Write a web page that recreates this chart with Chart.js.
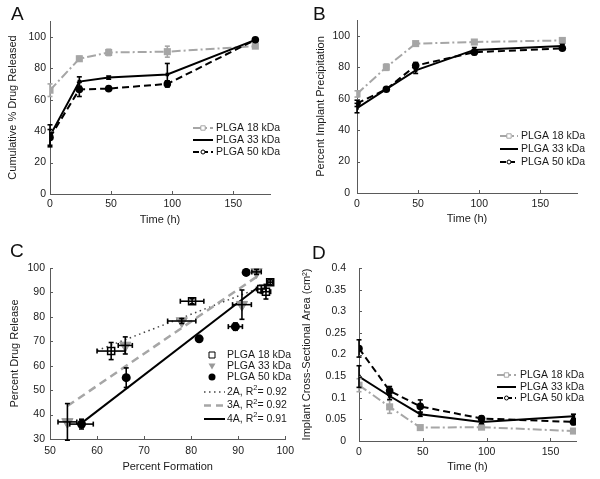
<!DOCTYPE html>
<html><head><meta charset="utf-8">
<script src="https://cdn.jsdelivr.net/npm/chart.js@4/dist/chart.umd.min.js"></script>
<style>
html,body{margin:0;padding:0;background:#fff;}
#wrap{position:relative;width:600px;height:479px;overflow:hidden;font-family:"Liberation Sans",Arial,sans-serif;}
canvas{position:absolute;}
.lbl{position:absolute;font-size:19px;color:#111;line-height:1;font-family:"Liberation Sans",Arial,sans-serif;}
</style></head><body>
<div id="wrap">
<canvas id="cA" width="300" height="240" style="left:0;top:0;width:300px;height:240px"></canvas>
<canvas id="cB" width="300" height="240" style="left:300px;top:0;width:300px;height:240px"></canvas>
<canvas id="cC" width="300" height="239" style="left:0;top:240px;width:300px;height:239px"></canvas>
<canvas id="cD" width="300" height="239" style="left:300px;top:240px;width:300px;height:239px"></canvas>
<div class="lbl" style="left:11px;top:4px">A</div>
<div class="lbl" style="left:313px;top:4px">B</div>
<div class="lbl" style="left:10px;top:241px">C</div>
<div class="lbl" style="left:312px;top:243px">D</div>
</div>
<script>
// ---------- data ----------
const timeH = [0, 24, 48, 96, 168];
const seriesNames = ['PLGA 18 kDa', 'PLGA 33 kDa', 'PLGA 50 kDa'];

// A: cumulative % drug released
const relA18 = [66, 86, 90, 90.5, 94];
const relA33 = [37, 71.5, 74, 76, 98];
const relA50 = [36, 66.5, 67, 70, 98];
const errA18 = [4, 1.5, 2, 3.5, 1];
const errA33 = [7, 3, 1, 7, 1];
const errA50 = [5, 4.5, 1, 2, 1];

// B: percent implant precipitation
const preB18 = [63, 80, 95, 96, 97];
const preB33 = [54, 66, 78, 91, 93.5];
const preB50 = [57, 66, 81, 89.5, 92];
const errB18 = [2, 2, 1, 1, 1];
const errB33 = [3, 1, 2, 1.5, 1];
const errB50 = [2, 1, 2, 1.5, 1];

// C: percent drug release vs percent formation
const formC18 = [63, 80.2, 94.9, 95.9, 96.8];
const relC18  = [66, 86.4, 91.4, 90.3, 94.2];
const xerrC18 = [3, 2.5, 1, 1, 0.5];
const yerrC18 = [3.5, 1, 1.5, 3, 1];
const formC33 = [53.7, 66, 78, 90.8, 93.9];
const relC33  = [37, 68.3, 78.3, 85, 98.4];
const xerrC33 = [2, 1.5, 3, 2, 1];
const yerrC33 = [7.5, 3.5, 1, 6, 1];
const formC50 = [56.7, 66.2, 81.7, 89.4, 91.7];
const relC50  = [36.1, 55.1, 71, 76, 98.2];
const xerrC50 = [2.5, 0.5, 0.5, 1.5, 0.5];
const yerrC50 = [2, 4, 1, 1.5, 0.5];
const fitNames = ['2A', '3A', '4A'];
const fitR2 = ['0.92', '0.92', '0.91'];
const fit2A = [[60, 66.2], [97, 93.7]];
const fit3A = [[53.7, 43.5], [94, 96.5]];
const fit4A = [[56.7, 36.5], [94.5, 92.5]];

// D: implant cross-sectional area
const areaD18 = [0.129, 0.079, 0.031, 0.032, 0.023];
const areaD33 = [0.149, 0.104, 0.062, 0.044, 0.057];
const areaD50 = [0.214, 0.116, 0.080, 0.052, 0.044];
const errD18 = [0.015, 0.015, 0.005, 0.004, 0.003];
const errD33 = [0.025, 0.008, 0.005, 0.004, 0.005];
const errD50 = [0.02, 0.01, 0.015, 0.005, 0.006];

// tick labels
const xTicksTime = [0, 50, 100, 150];
const yTicksPct = [0, 20, 40, 60, 80, 100];
const xTicksC = [50, 60, 70, 80, 90, 100];
const yTicksC = [30, 40, 50, 60, 70, 80, 90, 100];
const yTicksD = [0, 0.05, 0.1, 0.15, 0.2, 0.25, 0.3, 0.35, 0.4];
const yLabelsD = ['0', '0.05', '0.1', '0.15', '0.2', '0.25', '0.3', '0.35', '0.4'];

// ---------- styles ----------
const FONT = '"Liberation Sans", Arial, sans-serif';
const INK = '#1a1a1a';
const AXIS = '#5a5a5a';
const GRAY = '#a6a6a6';
const TRI = '#999999';
const DASH18 = [9, 3, 2, 3];
const DASH50 = [7, 4];

const pts = (xs, ys) => xs.map((x, i) => ({x, y: ys[i]}));
const seg = a => a.map(p => ({x: p[0], y: p[1]}));

// ---------- plugins ----------
const errPlugin = {
  id: 'errbars',
  afterDatasetsDraw(chart, args, opts) {
    const ctx = chart.ctx, xs = chart.scales.x, ys = chart.scales.y;
    (opts.sets || []).forEach(s => {
      ctx.save();
      ctx.strokeStyle = s.color; ctx.lineWidth = s.width || 1.6; ctx.setLineDash([]);
      const cap = s.cap || 2.5;
      const L = (a, b, c, d) => { ctx.beginPath(); ctx.moveTo(a, b); ctx.lineTo(c, d); ctx.stroke(); };
      s.x.forEach((xv, i) => {
        const yv = s.y[i];
        const px = xs.getPixelForValue(xv), py = ys.getPixelForValue(yv);
        if (s.ey && s.ey[i]) {
          const t = ys.getPixelForValue(yv + s.ey[i]), b = ys.getPixelForValue(yv - s.ey[i]);
          L(px, t, px, b); L(px - cap, t, px + cap, t); L(px - cap, b, px + cap, b);
        }
        if (s.ex && s.ex[i]) {
          const l = xs.getPixelForValue(xv - s.ex[i]), r = xs.getPixelForValue(xv + s.ex[i]);
          L(l, py, r, py); L(l, py - cap, l, py + cap); L(r, py - cap, r, py + cap);
        }
      });
      ctx.restore();
    });
  }
};

const tickPlugin = {
  id: 'inticks',
  afterDraw(chart) {
    const ctx = chart.ctx, a = chart.chartArea;
    ctx.save(); ctx.strokeStyle = AXIS; ctx.lineWidth = 1; ctx.setLineDash([]);
    chart.scales.x.ticks.forEach(t => {
      const p = Math.round(chart.scales.x.getPixelForValue(t.value)) + 0.5;
      ctx.beginPath(); ctx.moveTo(p, a.bottom); ctx.lineTo(p, a.bottom - 3); ctx.stroke();
    });
    chart.scales.y.ticks.forEach(t => {
      const p = Math.round(chart.scales.y.getPixelForValue(t.value)) + 0.5;
      ctx.beginPath(); ctx.moveTo(a.left, p); ctx.lineTo(a.left + 3, p); ctx.stroke();
    });
    ctx.restore();
  }
};

function drawMarker(ctx, m, x, y) {
  ctx.save(); ctx.setLineDash([]);
  ctx.fillStyle = m.fill; ctx.strokeStyle = m.stroke; ctx.lineWidth = m.lw || 1;
  ctx.beginPath();
  if (m.style === 'rect') ctx.rect(x - m.r, y - m.r, 2 * m.r, 2 * m.r);
  else if (m.style === 'circle') ctx.arc(x, y, m.r, 0, Math.PI * 2);
  else if (m.style === 'tridown') { ctx.moveTo(x - m.r, y - m.r * 0.7); ctx.lineTo(x + m.r, y - m.r * 0.7); ctx.lineTo(x, y + m.r); ctx.closePath(); }
  if (m.fill !== 'none') ctx.fill();
  if (m.stroke !== 'none') ctx.stroke();
  ctx.restore();
}

const legendPlugin = {
  id: 'plegend',
  afterDraw(chart, args, o) {
    if (!o || !o.items) return;
    const ctx = chart.ctx;
    ctx.save();
    o.items.forEach((it, i) => {
      const y = o.rows[i];
      const x1 = o.x1, x2 = o.x2;
      if (it.line) {
        ctx.strokeStyle = it.line.color; ctx.lineWidth = it.line.width; ctx.setLineDash(it.line.dash || []);
        ctx.beginPath(); ctx.moveTo(x1, y); ctx.lineTo(x2, y); ctx.stroke();
      }
      if (it.marker) drawMarker(ctx, it.marker, it.mx !== undefined ? it.mx : (x1 + x2) / 2, y);
      ctx.setLineDash([]);
      ctx.fillStyle = INK; ctx.textBaseline = 'middle'; ctx.textAlign = 'left';
      let x = o.xt;
      it.text.forEach(part => {
        if (part.sup) {
          ctx.font = '7.5px ' + FONT; ctx.fillText(part.t, x, y - 4);
        } else {
          ctx.font = '10.5px ' + FONT; ctx.fillText(part.t, x, y);
        }
        x += ctx.measureText(part.t).width;
      });
    });
    ctx.restore();
  }
};

// ---------- builder ----------
function buildPanel(p) {
  const titleSize = 11;
  const lh = titleSize * 1.2;
  const scaleLeft = p.yTitleX - lh / 2;
  const padL = scaleLeft - p.ox;
  const YW = p.L - scaleLeft;
  const xBottom = p.xTitleY + lh / 2;
  const padB = p.oy + p.H - xBottom;
  const XH = xBottom - p.B;
  const tickFont = {family: FONT, size: 10.5};
  return new Chart(document.getElementById(p.id), {
    type: 'scatter',
    data: {datasets: p.datasets},
    options: {
      responsive: false, animation: false, devicePixelRatio: 1,
      layout: {padding: {left: padL, top: p.T - p.oy, right: p.ox + p.W - p.R, bottom: padB}},
      plugins: {legend: {display: false}, tooltip: {enabled: false}, errbars: {sets: p.err}, plegend: p.legend},
      scales: {
        x: {
          type: 'linear', min: p.xmin, max: p.xmax,
          afterFit(s) { s.height = XH; },
          afterBuildTicks(s) { s.ticks = p.xticks.map(v => ({value: v})); },
          grid: {display: false, drawTicks: false},
          border: {display: true, color: AXIS, width: 1},
          ticks: {padding: p.xTickPad, color: INK, font: tickFont, maxRotation: 0, autoSkip: false,
                  callback: (v, i) => String(p.xticks[i])},
          title: {display: true, text: p.xTitle, color: INK, font: {family: FONT, size: titleSize}, padding: 0}
        },
        y: {
          type: 'linear', min: p.ymin, max: p.ymax,
          afterFit(s) { s.width = YW; },
          afterBuildTicks(s) { s.ticks = p.yticks.map(v => ({value: v})); },
          grid: {display: false, drawTicks: false},
          border: {display: true, color: AXIS, width: 1},
          ticks: {padding: p.yTickPad, color: INK, font: tickFont, autoSkip: false,
                  callback: (v, i) => (p.ylabels ? p.ylabels[i] : String(p.yticks[i]))},
          title: {display: true, text: p.yTitle, color: INK, font: {family: FONT, size: titleSize}, padding: 0}
        }
      }
    },
    plugins: [errPlugin, tickPlugin, legendPlugin]
  });
}

function timeSets(d18, d33, d50) {
  return [
    {data: pts(timeH, d50), showLine: true, borderColor: '#000', borderWidth: 2, borderDash: DASH50,
     pointStyle: 'circle', pointRadius: 3.8, pointBackgroundColor: '#000', pointBorderColor: '#000', pointBorderWidth: 0, order: 1},
    {data: pts(timeH, d33), showLine: true, borderColor: '#000', borderWidth: 2,
     pointStyle: 'rect', pointRadius: 2.5, pointBackgroundColor: '#000', pointBorderColor: '#000', pointBorderWidth: 0, order: 2},
    {data: pts(timeH, d18), showLine: true, borderColor: GRAY, borderWidth: 2, borderDash: DASH18,
     pointStyle: 'rect', pointRadius: 5, pointBackgroundColor: GRAY, pointBorderColor: GRAY, pointBorderWidth: 0, order: 3}
  ];
}
function timeLegend(ox, oy, x1, x2, xt, rows) {
  return {
    x1: x1 - ox, x2: x2 - ox, xt: xt - ox, rows: rows.map(r => r - oy),
    items: [
      {line: {color: GRAY, width: 2, dash: DASH18}, marker: {style: 'rect', r: 2.2, fill: '#fff', stroke: GRAY, lw: 1}, text: [{t: seriesNames[0]}]},
      {line: {color: '#000', width: 2}, text: [{t: seriesNames[1]}]},
      {line: {color: '#000', width: 2, dash: [6, 3]}, marker: {style: 'circle', r: 2, fill: '#fff', stroke: '#000', lw: 1}, text: [{t: seriesNames[2]}]}
    ]
  };
}

// Panel A
buildPanel({
  id: 'cA', ox: 0, oy: 0, W: 300, H: 240, L: 50, T: 21, R: 270, B: 194,
  yTitleX: 13, xTitleY: 220, yTickPad: 4, xTickPad: 4,
  xmin: 0, xmax: 180, ymin: 0, ymax: 110, xticks: xTicksTime, yticks: yTicksPct,
  xTitle: 'Time (h)', yTitle: 'Cumulative % Drug Released',
  datasets: timeSets(relA18, relA33, relA50),
  err: [
    {x: timeH, y: relA18, ey: errA18, color: GRAY},
    {x: timeH, y: relA33, ey: errA33, color: '#000'},
    {x: timeH, y: relA50, ey: errA50, color: '#000'}
  ],
  legend: timeLegend(0, 0, 193, 213, 216, [128, 140, 152])
});

// Panel B
buildPanel({
  id: 'cB', ox: 300, oy: 0, W: 300, H: 240, L: 357, T: 20, R: 577, B: 193,
  yTitleX: 321, xTitleY: 219, yTickPad: 7, xTickPad: 5,
  xmin: 0, xmax: 180, ymin: 0, ymax: 110, xticks: xTicksTime, yticks: yTicksPct,
  xTitle: 'Time (h)', yTitle: 'Percent Implant Precipitation',
  datasets: timeSets(preB18, preB33, preB50),
  err: [
    {x: timeH, y: preB18, ey: errB18, color: GRAY},
    {x: timeH, y: preB33, ey: errB33, color: '#000'},
    {x: timeH, y: preB50, ey: errB50, color: '#000'}
  ],
  legend: timeLegend(300, 0, 500, 518, 521, [136, 149, 162])
});

// Panel C
buildPanel({
  id: 'cC', ox: 0, oy: 240, W: 300, H: 239, L: 50, T: 268, R: 286, B: 439,
  yTitleX: 15, xTitleY: 467, yTickPad: 5, xTickPad: 6,
  xmin: 50, xmax: 100, ymin: 30, ymax: 100, xticks: xTicksC, yticks: yTicksC,
  xTitle: 'Percent Formation', yTitle: 'Percent Drug Release',
  datasets: [
    {data: pts(formC18, relC18), pointStyle: 'rect', pointRadius: 5, pointBackgroundColor: '#fff', pointBorderColor: '#000', pointBorderWidth: 1.5, order: 1},
    {data: pts(formC33, relC33), pointStyle: 'triangle', pointRotation: 180, pointRadius: 6.5, pointBackgroundColor: TRI, pointBorderColor: TRI, pointBorderWidth: 1, order: 2},
    {data: pts(formC50, relC50), pointStyle: 'circle', pointRadius: 4.5, pointBackgroundColor: '#000', pointBorderColor: '#000', pointBorderWidth: 0, order: 3},
    {data: seg(fit2A), showLine: true, pointRadius: 0, borderColor: '#444', borderWidth: 1.5, borderDash: [1.5, 3.5], order: 6},
    {data: seg(fit3A), showLine: true, pointRadius: 0, borderColor: GRAY, borderWidth: 2.5, borderDash: [8, 5], order: 5},
    {data: seg(fit4A), showLine: true, pointRadius: 0, borderColor: '#000', borderWidth: 2, order: 4}
  ],
  err: [
    {x: formC18, y: relC18, ex: xerrC18, ey: yerrC18, color: '#000'},
    {x: formC33, y: relC33, ex: xerrC33, ey: yerrC33, color: '#000'},
    {x: formC50, y: relC50, ex: xerrC50, ey: yerrC50, color: '#000'}
  ],
  legend: {
    x1: 204, x2: 225, xt: 227, rows: [355, 366, 377, 392, 405.5, 419].map(r => r - 240),
    items: [
      {marker: {style: 'rect', r: 3, fill: '#fff', stroke: '#000', lw: 1}, mx: 212, text: [{t: seriesNames[0]}]},
      {marker: {style: 'tridown', r: 3.5, fill: TRI, stroke: 'none'}, mx: 212, text: [{t: seriesNames[1]}]},
      {marker: {style: 'circle', r: 3.5, fill: '#000', stroke: 'none'}, mx: 212, text: [{t: seriesNames[2]}]},
      {line: {color: '#444', width: 1.5, dash: [1.5, 3.5]}, text: [{t: fitNames[0] + ', R'}, {t: '2', sup: true}, {t: '= ' + fitR2[0]}]},
      {line: {color: GRAY, width: 2.5, dash: [7, 5]}, text: [{t: fitNames[1] + ', R'}, {t: '2', sup: true}, {t: '= ' + fitR2[1]}]},
      {line: {color: '#000', width: 2}, text: [{t: fitNames[2] + ', R'}, {t: '2', sup: true}, {t: '= ' + fitR2[2]}]}
    ]
  }
});

// Panel D
buildPanel({
  id: 'cD', ox: 300, oy: 240, W: 300, H: 239, L: 359, T: 268, R: 576, B: 441,
  yTitleX: 307, xTitleY: 467, yTickPad: 13, xTickPad: 5,
  xmin: 0, xmax: 170, ymin: 0, ymax: 0.4, xticks: xTicksTime, yticks: yTicksD, ylabels: yLabelsD,
  xTitle: 'Time (h)', yTitle: 'Implant Cross-Sectional Area (cm\u00B2)',
  datasets: timeSets(areaD18, areaD33, areaD50),
  err: [
    {x: timeH, y: areaD18, ey: errD18, color: GRAY},
    {x: timeH, y: areaD33, ey: errD33, color: '#000'},
    {x: timeH, y: areaD50, ey: errD50, color: '#000'}
  ],
  legend: timeLegend(300, 240, 497, 516, 520, [375, 387, 398])
});
</script>
</body></html>
